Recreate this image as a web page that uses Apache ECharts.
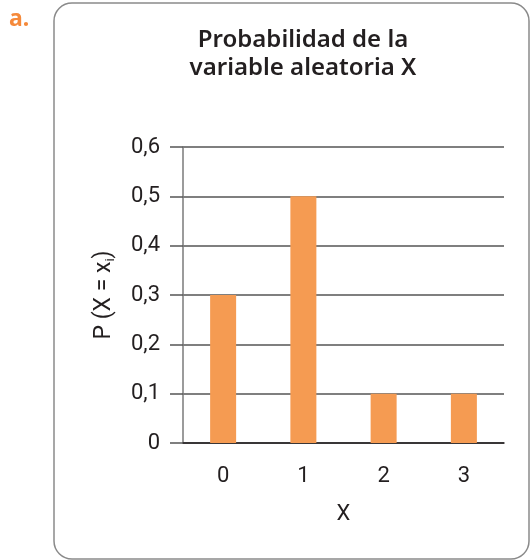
<!DOCTYPE html>
<html>
<head>
<meta charset="utf-8">
<style>
  html, body { margin: 0; padding: 0; background: #fff; }
  #chart { width: 532px; height: 560px; }
</style>
<script src="https://cdn.jsdelivr.net/npm/echarts@6/dist/echarts.min.js"></script>
</head>
<body>
<div id="chart"></div>
<script>
// Distribution of the random variable X
const categories = ['0', '1', '2', '3'];
const probabilities = [0.3, 0.5, 0.1, 0.1];
const yTicks = [0, 0.1, 0.2, 0.3, 0.4, 0.5, 0.6];

const titleFont = '"Noto Sans", "Open Sans", sans-serif';
const labelFont = 'Roboto, "Noto Sans", sans-serif';
const ink = '#231f20';
const chart = echarts.init(document.getElementById('chart'), null, { renderer: 'canvas' });

chart.setOption({
  backgroundColor: '#ffffff',
  animation: false,
  title: {
    text: 'Probabilidad de la\nvariable aleatoria X',
    left: 298,
    top: 21,
    textAlign: 'center',
    textStyle: {
      fontFamily: titleFont,
      fontWeight: 600,
      fontSize: 24,
      lineHeight: 28,
      color: ink
    }
  },
  graphic: [
    {
      type: 'rect',
      shape: { x: 54, y: 3, width: 475, height: 556, r: 18 },
      style: { fill: 'none', stroke: '#8a8a8a', lineWidth: 1.5 },
      z: -1
    },
    {
      type: 'text',
      left: 9,
      top: 8,
      style: {
        text: 'a.',
        fontFamily: titleFont,
        fontWeight: 'bold',
        fontSize: 23,
        fill: '#f5893a'
      }
    }
  ],
  grid: { left: 183, right: 28, top: 147, bottom: 117 },
  xAxis: {
    type: 'category',
    data: categories,
    name: 'X',
    nameLocation: 'middle',
    nameGap: 60,
    nameTextStyle: { fontFamily: labelFont, fontWeight: 'normal', fontSize: 22, color: ink },
    axisLine: { show: true, lineStyle: { color: ink, width: 1.5 } },
    axisTick: { show: false },
    axisLabel: { margin: 22, fontFamily: labelFont, fontWeight: 'normal', fontSize: 22, color: ink }
  },
  yAxis: {
    type: 'value',
    min: 0,
    max: 0.6,
    interval: 0.1,
    name: 'P (X = x{sub|i})',
    nameLocation: 'middle',
    nameGap: 66,
    nameRotate: 90,
    nameTextStyle: {
      fontFamily: labelFont,
      fontWeight: 'normal',
      fontSize: 23,
      color: ink,
      rich: {
        sub: { fontFamily: labelFont, fontWeight: 'normal', fontSize: 13, color: ink, verticalAlign: 'bottom', padding: [13, 0, 0, 0] }
      }
    },
    axisLine: { show: true, lineStyle: { color: '#7a7a7a', width: 1.5 } },
    axisTick: { show: true, length: 13, lineStyle: { color: '#555555', width: 1.5 } },
    axisLabel: {
      margin: 23,
      fontFamily: labelFont,
      fontWeight: 'normal',
      fontSize: 22,
      color: ink,
      formatter: function (v) {
        const t = yTicks.find(function (y) { return Math.abs(y - v) < 1e-9; });
        return t === 0 ? '0' : String(+v.toFixed(1)).replace('.', ',');
      }
    },
    splitLine: { show: true, lineStyle: { color: '#555555', width: 1.5 } }
  },
  series: [{
    type: 'bar',
    data: probabilities,
    barWidth: 26,
    itemStyle: { color: '#f59b52' },
    z: 3
  }]
});
</script>
</body>
</html>
